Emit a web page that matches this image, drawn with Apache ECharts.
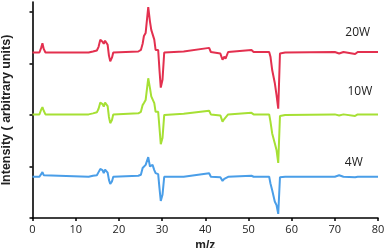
<!DOCTYPE html>
<html><head><meta charset="utf-8">
<script src="https://cdn.jsdelivr.net/npm/echarts@6/dist/echarts.min.js"></script>
<style>html,body{margin:0;padding:0;background:#fff}#c{width:385px;height:248px}</style>
</head><body><div id="c"></div>
<script>
// shared m/z grid
const mz = [0,1.6,2.0,2.3,2.6,3.0,13,14,14.9,15.3,15.7,16.2,16.5,16.8,17.1,17.4,17.7,18.0,18.4,18.7,
  24.5,25.1,25.5,25.8,26.2,26.8,27.2,27.5,27.8,28.2,28.5,29.1,29.4,29.7,30.1,30.5,35,40.9,41.3,43.5,
  44.0,44.4,44.7,45.3,50.7,51.2,54.8,55.1,55.5,56.1,56.5,56.9,57.3,58.5,70,71,72,74.7,75.3,80];
const int20W = [3.21,3.21,3.30,3.39,3.28,3.21,3.21,3.23,3.25,3.32,3.46,3.42,3.38,3.44,3.47,3.36,3.15,3.04,3.11,3.21,
  3.23,3.26,3.38,3.53,3.59,4.09,3.81,3.65,3.67,3.46,3.26,3.26,2.87,2.53,2.68,3.21,3.23,3.30,3.22,3.19,
  3.07,3.13,3.09,3.22,3.26,3.22,3.22,3.13,2.87,2.62,2.39,2.12,3.19,3.21,3.22,3.19,3.22,3.18,3.22,3.22];
const int10W = [2.01,2.01,2.10,2.15,2.08,2.01,2.01,2.03,2.05,2.12,2.24,2.21,2.16,2.24,2.27,2.17,1.96,1.84,1.90,2.01,
  2.03,2.06,2.19,2.23,2.29,2.71,2.52,2.36,2.39,2.23,2.06,2.06,1.75,1.43,1.55,2.00,2.02,2.08,2.01,1.99,
  1.87,1.92,1.89,2.01,2.04,2.01,2.01,1.87,1.64,1.45,1.32,1.07,1.98,2.00,2.01,1.99,2.01,1.98,2.01,2.01];
const int4W = [0.80,0.80,0.85,0.89,0.83,0.80,0.80,0.82,0.83,0.89,0.95,0.93,0.87,0.94,0.97,0.88,0.74,0.66,0.71,0.80,
  0.82,0.84,0.97,0.99,1.03,1.18,1.00,1.01,1.03,0.93,0.87,0.85,0.58,0.33,0.45,0.80,0.80,0.87,0.80,0.79,
  0.72,0.76,0.74,0.80,0.82,0.80,0.80,0.67,0.54,0.32,0.25,0.08,0.79,0.80,0.80,0.83,0.80,0.79,0.80,0.80];
const seriesNames = ['20W','10W','4W'];
const seriesColors = ['#e3304f','#a6e034','#4a9ee8'];
const labelPos = [[75.3,3.59],[75.8,2.45],[74.4,1.07]];
const xTicks = [0,10,20,30,40,50,60,70,80];
const yTicks = [0,1,2,3,4];

const chart = echarts.init(document.getElementById('c'), null, {renderer:'canvas'});
const sets = [int20W,int10W,int4W];
chart.setOption({
  animation:false,
  grid:{left:32.5,right:7,top:2,bottom:30,containLabel:false,outerBoundsMode:'none'},
  xAxis:{type:'value',min:0,max:80,interval:10,
    axisLine:{lineStyle:{color:'#000',width:1.6}},
    axisTick:{show:true,length:3,inside:false,lineStyle:{color:'#000',width:1.5}},
    axisLabel:{color:'#222',fontSize:11,fontFamily:'Open Sans',margin:6,customValues:xTicks},
    splitLine:{show:false},
    name:'m/z',nameLocation:'middle',nameGap:21,
    nameTextStyle:{color:'#222',fontSize:12,fontWeight:'bold',fontFamily:'Liberation Sans'}},
  yAxis:{type:'value',min:0,max:4.19,
    axisLine:{show:true,lineStyle:{color:'#000',width:1.6}},
    axisTick:{show:true,length:3,customValues:yTicks,lineStyle:{color:'#000',width:1.5}},
    axisLabel:{show:false},splitLine:{show:false},
    name:'Intensity ( arbitrary units)',nameLocation:'middle',nameGap:19,
    nameTextStyle:{color:'#222',fontSize:12.5,fontWeight:'bold',fontFamily:'Liberation Sans'}},
  series: sets.map((arr,i)=>({type:'line',name:seriesNames[i],symbol:'none',
    lineStyle:{color:seriesColors[i],width:2},
    data: mz.map((m,j)=>[m,arr[j]])}))
});
const g = seriesNames.map((n,i)=>{
  const p = chart.convertToPixel({gridIndex:0}, labelPos[i]);
  return {type:'text',x:p[0],y:p[1],style:{text:n,fill:'#222',fontSize:12,fontFamily:'Open Sans',align:'center',verticalAlign:'middle'}};
});
chart.setOption({graphic:g});
</script></body></html>
